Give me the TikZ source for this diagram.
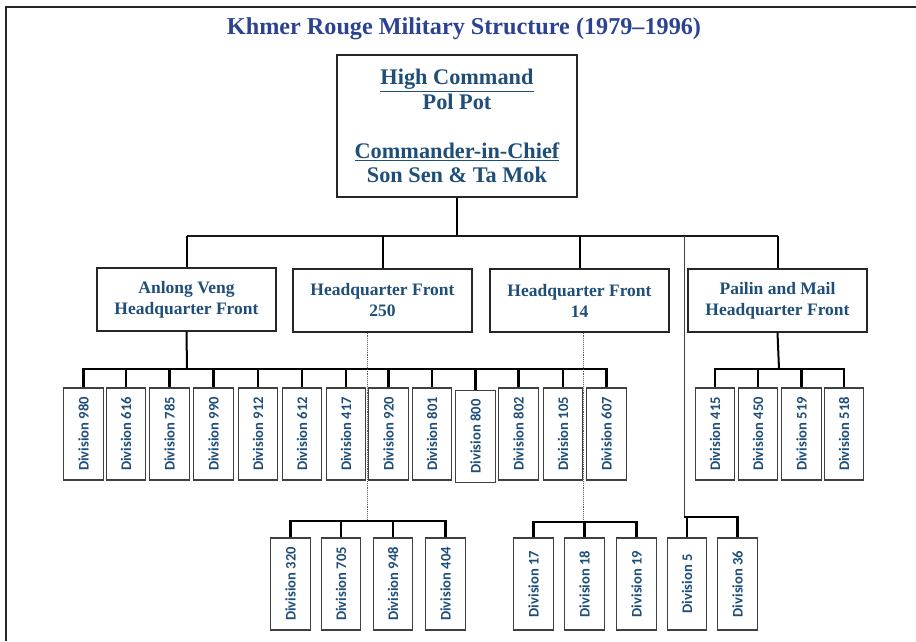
\documentclass[tikz,border=0pt]{standalone}
\usepackage{fontspec}
\setmainfont{Liberation Serif}
\newfontfamily\divfont{Carlito}
\definecolor{boxblue}{HTML}{1F4E79}
\definecolor{titleblue}{HTML}{2C4391}
\begin{document}
\begin{tikzpicture}[x=1pt,y=-1pt,
  box/.style={draw=black!85, line width=1.2pt, fill=white, align=center, text=boxblue,
    font=\bfseries\fontsize{17.5}{21}\selectfont, inner sep=0pt},
  midbox/.style={box, minimum width=179pt, minimum height=63pt},
  divbox/.style={draw=black!75, line width=1.1pt, fill=white, minimum width=39.5pt, minimum height=92pt,
    inner sep=0pt, text=boxblue, font=\divfont\bfseries\fontsize{14.6}{17}\selectfont},
  bus/.style={line width=2.2pt, black},
  drop/.style={line width=2pt, black},
  topline/.style={line width=1.5pt, black!90},
  thinline/.style={line width=1pt, black!75},
  dotline/.style={densely dotted, line width=0.9pt, black!65}]
\useasboundingbox (0,0) rectangle (916,641);
% frame
\draw[line width=1.6pt, black!85] (6,641) -- (6,7) -- (916,7);
% title
\node[text=titleblue, font=\bfseries\fontsize{24.2}{28}\selectfont] (title) at (464,29) {Khmer Rouge Military Structure (1979–1996)};
% top box
\node[box, minimum width=240pt, minimum height=142pt, font=\bfseries\fontsize{22.3}{24.5}\selectfont] (top) at (457,126)
  {\underline{High Command}\\Pol Pot\\[24.5pt]\underline{Commander-in-Chief}\\Son Sen \& Ta Mok};
% middle boxes
\node[midbox] (anlong) at (186.5,299.5) {Anlong Veng\\Headquarter Front};
\node[midbox] (hq250) at (382.5,300.5) {Headquarter Front\\250};
\node[midbox] (hq14) at (579.5,300.5) {Headquarter Front\\14};
\node[midbox] (pailin) at (777.5,300.5) {Pailin and Mail\\Headquarter Front};
% division row
\foreach \n/\x/\y in {980/83.5/434, 616/126/434, 785/169.5/434, 990/213.5/434, 912/258/434, 612/302/434,
  417/346/434, 920/388.5/434, 801/432/434, 800/475.5/436.5, 802/518.5/434, 105/563/434, 607/606.5/434,
  415/715/434, 450/758/434, 519/801.5/434, 518/844/434,
  320/290.5/584, 705/341/584, 948/393/584, 404/445.5/584,
  17/533.5/584, 18/584.5/584, 19/636.5/584, 5/687/584, 36/737.5/584}
  \node[divbox] (d\n) at (\x,\y) {\rotatebox{90}{Division \n}};
% coordinates
\coordinate (topbus) at (457,236);
\coordinate (busA) at (187,369);
\coordinate (busP) at (779,369);
\coordinate (g1) at (367,521);
\coordinate (g2) at (583,522);
\coordinate (jt) at (684,236);
\coordinate (j5) at (684,517);
% top level connectors
\draw[drop] (top.south) -- (topbus);
\draw[topline] (anlong.north |- topbus) -- (pailin.north |- topbus);
\foreach \m in {anlong,hq250,hq14,pailin}
  \draw[drop] (\m.north |- topbus) -- (\m.north);
% Anlong Veng group
\draw[drop] (anlong.south) -- (busA);
\foreach \n in {980,616,785,990,912,612,417,920,801,800,802,105,607}
  \draw[bus] (busA) -| (d\n.north);
% Pailin group
\draw[drop] (pailin.south) -- (busP);
\foreach \n in {415,450,519,518}
  \draw[bus] (busP) -| (d\n.north);
% HQ 250 group (dotted)
\draw[dotline] ([xshift=-15.5pt]hq250.south) -- (g1);
\foreach \n in {320,705,948,404}
  \draw[bus] (g1) -| (d\n.north);
% HQ 14 group (dotted)
\draw[dotline] ([xshift=3.5pt]hq14.south) -- (g2);
\foreach \n in {17,18,19}
  \draw[bus] (g2) -| (d\n.north);
% thin line to divisions 5 and 36
\draw[thinline] (jt) -- (j5);
\foreach \n in {5,36}
  \draw[bus] (j5) -| (d\n.north);
\end{tikzpicture}
\end{document}
